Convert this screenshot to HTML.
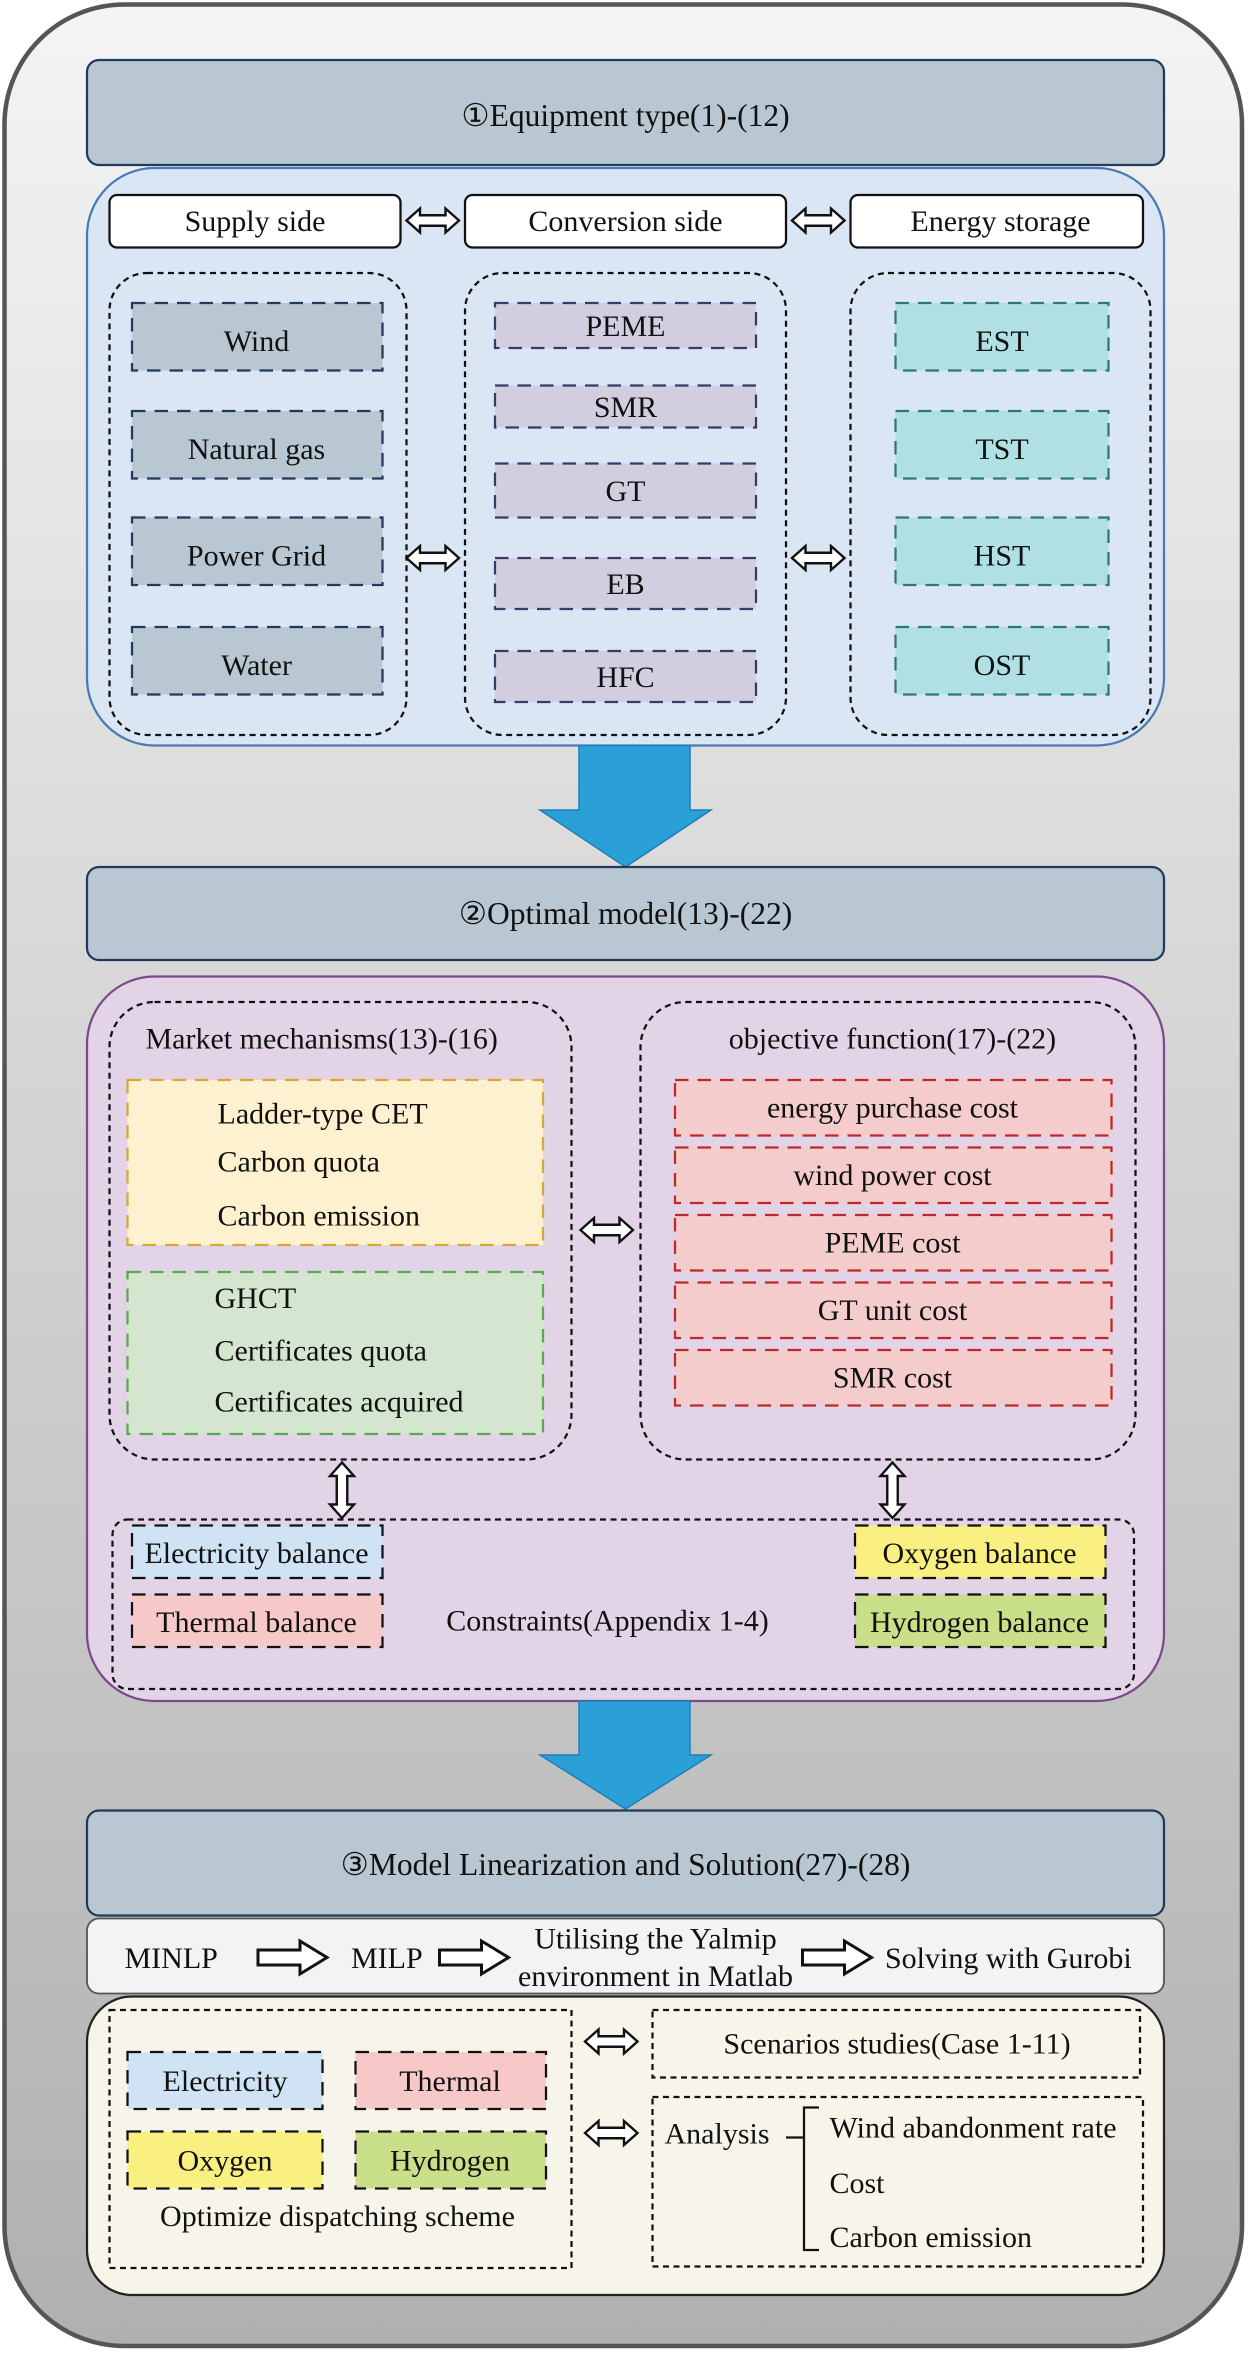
<!DOCTYPE html>
<html><head><meta charset="utf-8"><style>html,body{margin:0;padding:0;background:#fff}svg{display:block}text{font-family:"Liberation Serif","DejaVu Serif",serif}</style></head>
<body>
<svg width="1250" height="2355" viewBox="0 0 833.33 1570" xmlns="http://www.w3.org/2000/svg" style="font-family:'Liberation Serif',serif" font-size="20" fill="#111">
<defs>
<linearGradient id="bg" x1="0" y1="0" x2="0" y2="1"><stop offset="0" stop-color="#f4f4f4"/><stop offset="1" stop-color="#b0b0b0"/></linearGradient>
<path id="dh" d="M0,8 L9,0 L9,4.5 L26,4.5 L26,0 L35,8 L26,16 L26,11.5 L9,11.5 L9,16 Z" fill="#fff" stroke="#111" stroke-width="1.6"/>
<path id="dv" d="M8,0 L16,9 L11.5,9 L11.5,28 L16,28 L8,37 L0,28 L4.5,28 L4.5,9 L0,9 Z" fill="#fff" stroke="#111" stroke-width="1.6"/>
<path id="ra" d="M0,6 H28 V0 L46,11 L28,22 V16 H0 Z" fill="#fff" stroke="#111" stroke-width="2"/>
</defs>
<rect x="3" y="3" width="825" height="1561" rx="80" fill="url(#bg)" stroke="#555" stroke-width="3"/>

<!-- Section 1 -->
<rect x="58" y="40" width="718" height="70" rx="8" fill="#b8c7d1" stroke="#1f3a5a" stroke-width="1.5"/>
<text x="417" y="84" text-anchor="middle" font-size="21">①Equipment type(1)-(12)</text>
<rect x="58" y="112" width="718" height="385" rx="45" fill="#dae6f4" stroke="#4a7ab5" stroke-width="1.5"/>
<g fill="#fff" stroke="#111" stroke-width="1.5">
<rect x="73" y="130" width="194" height="35" rx="5"/>
<rect x="310" y="130" width="214" height="35" rx="5"/>
<rect x="567" y="130" width="195" height="35" rx="5"/>
</g>
<text x="170" y="154" text-anchor="middle">Supply side</text>
<text x="417" y="154" text-anchor="middle">Conversion side</text>
<text x="667" y="154" text-anchor="middle">Energy storage</text>
<use href="#dh" x="271" y="139"/><use href="#dh" x="528" y="139"/>
<use href="#dh" x="271" y="364"/><use href="#dh" x="528" y="364"/>
<g fill="none" stroke="#111" stroke-width="1.5" stroke-dasharray="4,3">
<rect x="73" y="182" width="198" height="308" rx="25"/>
<rect x="310" y="182" width="214" height="308" rx="25"/>
<rect x="567" y="182" width="200" height="308" rx="25"/>
</g>
<g fill="#b8c7d1" stroke="#1f3a5a" stroke-width="1.5" stroke-dasharray="9,6">
<rect x="88" y="202" width="167" height="45"/><rect x="88" y="274" width="167" height="45"/>
<rect x="88" y="345" width="167" height="45"/><rect x="88" y="418" width="167" height="45"/>
</g>
<g text-anchor="middle">
<text x="171" y="234">Wind</text><text x="171" y="306">Natural gas</text>
<text x="171" y="377">Power Grid</text><text x="171" y="450">Water</text>
</g>
<g fill="#d3cde0" stroke="#3a3a6a" stroke-width="1.5" stroke-dasharray="9,6">
<rect x="330" y="202" width="174" height="30"/><rect x="330" y="257" width="174" height="28"/>
<rect x="330" y="309" width="174" height="36"/><rect x="330" y="372" width="174" height="34"/>
<rect x="330" y="434" width="174" height="34"/>
</g>
<g text-anchor="middle">
<text x="417" y="224">PEME</text><text x="417" y="278">SMR</text><text x="417" y="334">GT</text>
<text x="417" y="396">EB</text><text x="417" y="458">HFC</text>
</g>
<g fill="#b0e0e3" stroke="#2a7a7a" stroke-width="1.5" stroke-dasharray="9,6">
<rect x="597" y="202" width="142" height="45"/><rect x="597" y="274" width="142" height="45"/>
<rect x="597" y="345" width="142" height="45"/><rect x="597" y="418" width="142" height="45"/>
</g>
<g text-anchor="middle">
<text x="668" y="234">EST</text><text x="668" y="306">TST</text><text x="668" y="377">HST</text><text x="668" y="450">OST</text>
</g>
<path d="M386,497 H460 V540 H474 L417,578 L360,540 H386 Z" fill="#2a9fd8" stroke="#1e7fb8" stroke-width="1"/>

<!-- Section 2 -->
<rect x="58" y="578" width="718" height="62" rx="8" fill="#b8c7d1" stroke="#1f3a5a" stroke-width="1.5"/>
<text x="417" y="616" text-anchor="middle" font-size="21">②Optimal model(13)-(22)</text>
<rect x="58" y="651" width="718" height="483" rx="45" fill="#e2d4e6" stroke="#7a4a8a" stroke-width="1.5"/>
<g fill="none" stroke="#111" stroke-width="1.5" stroke-dasharray="4,3">
<rect x="73" y="668" width="308" height="305" rx="30"/>
<rect x="427" y="668" width="330" height="305" rx="30"/>
<rect x="75" y="1013" width="681" height="113" rx="10"/>
</g>
<text x="97" y="699">Market mechanisms(13)-(16)</text>
<text x="595" y="699" text-anchor="middle">objective function(17)-(22)</text>
<rect x="85" y="720" width="277" height="110" fill="#fdf1cf" stroke="#d4a83a" stroke-width="1.5" stroke-dasharray="9,6"/>
<text x="145" y="749">Ladder-type CET</text><text x="145" y="781">Carbon quota</text><text x="145" y="817">Carbon emission</text>
<rect x="85" y="848" width="277" height="108" fill="#d4e6cf" stroke="#5aa850" stroke-width="1.5" stroke-dasharray="9,6"/>
<text x="143" y="872">GHCT</text><text x="143" y="907">Certificates quota</text><text x="143" y="941">Certificates acquired</text>
<g fill="#f5cccc" stroke="#c02828" stroke-width="1.5" stroke-dasharray="9,6">
<rect x="450" y="720" width="291" height="37"/><rect x="450" y="765" width="291" height="37"/>
<rect x="450" y="810" width="291" height="37"/><rect x="450" y="855" width="291" height="37"/>
<rect x="450" y="900" width="291" height="37"/>
</g>
<g text-anchor="middle">
<text x="595" y="745">energy purchase cost</text><text x="595" y="790">wind power cost</text>
<text x="595" y="835">PEME cost</text><text x="595" y="880">GT unit cost</text><text x="595" y="925">SMR cost</text>
</g>
<use href="#dh" x="387" y="812"/>
<use href="#dv" x="220" y="975"/><use href="#dv" x="587" y="975"/>
<g stroke="#111" stroke-width="1.5" stroke-dasharray="9,6">
<rect x="88" y="1017" width="167" height="35" fill="#cfe3f5"/>
<rect x="88" y="1063" width="167" height="35" fill="#f7c8c8"/>
<rect x="570" y="1017" width="167" height="35" fill="#f9f081"/>
<rect x="570" y="1063" width="167" height="35" fill="#c9df8a"/>
</g>
<text x="171" y="1042" text-anchor="middle">Electricity balance</text>
<text x="171" y="1088" text-anchor="middle">Thermal balance</text>
<text x="405" y="1087" text-anchor="middle">Constraints(Appendix 1-4)</text>
<text x="653" y="1042" text-anchor="middle">Oxygen balance</text>
<text x="653" y="1088" text-anchor="middle">Hydrogen balance</text>
<path d="M386,1134 H460 V1170 H474 L417,1206 L360,1170 H386 Z" fill="#2a9fd8" stroke="#1e7fb8" stroke-width="1"/>

<!-- Section 3 -->
<rect x="58" y="1207" width="718" height="70" rx="8" fill="#b8c7d1" stroke="#1f3a5a" stroke-width="1.5"/>
<text x="417" y="1250" text-anchor="middle" font-size="21">③Model Linearization and Solution(27)-(28)</text>
<rect x="58" y="1279" width="718" height="50" rx="8" fill="#f3f3f3" stroke="#555" stroke-width="1.2"/>
<text x="83" y="1312">MINLP</text>
<use href="#ra" x="172" y="1294"/>
<text x="234" y="1312">MILP</text>
<use href="#ra" x="293" y="1294"/>
<text x="437" y="1299" text-anchor="middle">Utilising the Yalmip</text>
<text x="437" y="1324" text-anchor="middle">environment in Matlab</text>
<use href="#ra" x="535" y="1294"/>
<text x="590" y="1312">Solving with Gurobi</text>
<rect x="58" y="1331" width="718" height="199" rx="30" fill="#f7f4ea" stroke="#222" stroke-width="1.5"/>
<g fill="none" stroke="#111" stroke-width="1.5" stroke-dasharray="4,3">
<rect x="73" y="1340" width="308" height="172"/>
<rect x="435" y="1340" width="325" height="45"/>
<rect x="435" y="1398" width="327" height="113"/>
</g>
<g stroke="#111" stroke-width="1.5" stroke-dasharray="9,6">
<rect x="85" y="1368" width="130" height="38" fill="#cfe3f5"/>
<rect x="237" y="1368" width="127" height="38" fill="#f7c8c8"/>
<rect x="85" y="1421" width="130" height="38" fill="#f9f081"/>
<rect x="237" y="1421" width="127" height="38" fill="#c9df8a"/>
</g>
<g text-anchor="middle">
<text x="150" y="1394">Electricity</text><text x="300" y="1394">Thermal</text>
<text x="150" y="1447">Oxygen</text><text x="300" y="1447">Hydrogen</text>
<text x="225" y="1484">Optimize dispatching scheme</text>
<text x="598" y="1369">Scenarios studies(Case 1-11)</text>
</g>
<use href="#dh" x="390" y="1353"/><use href="#dh" x="390" y="1414"/>
<text x="443" y="1429">Analysis</text>
<path d="M524,1425 H536 M546,1405 H536 V1500 H546" fill="none" stroke="#111" stroke-width="1.5"/>
<text x="553" y="1425">Wind abandonment rate</text>
<text x="553" y="1462">Cost</text>
<text x="553" y="1498">Carbon emission</text>
</svg>
</body></html>
